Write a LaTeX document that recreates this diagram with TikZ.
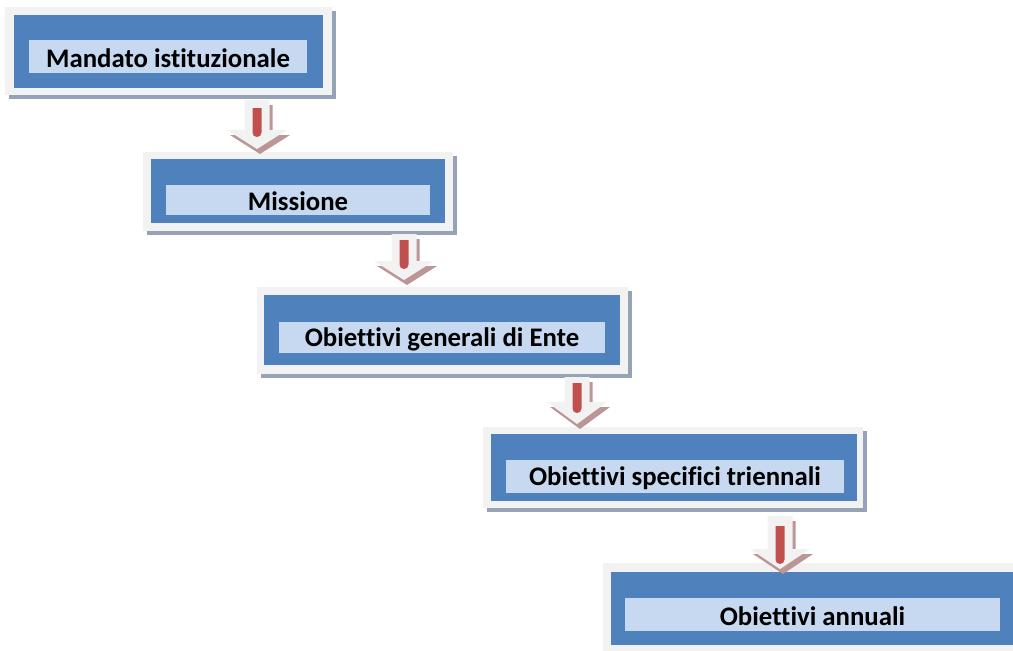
\documentclass[tikz,border=0pt]{standalone}
\usepackage{fontspec}
\setmainfont{Carlito}[Ligatures=NoCommon]
\usetikzlibrary{fit}
\definecolor{framegray}{RGB}{242,242,242}
\definecolor{boxblue}{RGB}{79,129,189}
\definecolor{stripblue}{RGB}{198,217,241}
\definecolor{boxshadow}{RGB}{150,163,182}
\definecolor{arrowfill}{RGB}{242,242,242}
\definecolor{arrowshadow}{RGB}{188,150,150}
\definecolor{arrowred}{RGB}{192,80,77}
\tikzset{
  x=1pt, y=-1pt,
  frame/.style={fill=framegray, draw=none, inner sep=0pt},
  bluebox/.style={fill=boxblue, draw=none, inner sep=0pt},
  strip/.style={fill=stripblue, draw=none, inner sep=0pt},
  shadowbox/.style={fill=boxshadow},
  txt/.style={font=\fontsize{26.8}{30}\selectfont\bfseries, text=black, inner sep=0pt},
}
% \stagebox{name}{outer x1,y1,x2,y2}{blue ...}{strip ...}{text}
\newcommand\stagebox[5]{%
  \node[frame, fit={#2}] (#1) {};
  \fill[shadowbox] ([shift={(4,4)}]#1.north west) rectangle ([shift={(4,4)}]#1.south east);
  \node[frame, fit={#2}] (#1f) {};
  \node[bluebox, fit={#3}] (#1b) {};
  \node[strip, fit={#4}] (#1s) {};
  \node[txt] (#1t) at ([yshift=-1.5pt]#1s.center) {#5};
}
% \blockarrow{cx}{top}{headtop}{tip}{redtop}{redbottom}
\newcommand\blockarrow[6]{%
  \begin{scope}[shift={(3,5)}]
    \fill[arrowshadow] (#1-12.5,#2) -- (#1+12.5,#2) -- (#1+12.5,#3) -- (#1+30,#3) -- (#1,#4) -- (#1-30,#3) -- (#1-12.5,#3) -- cycle;
  \end{scope}
  \fill[arrowfill] (#1-12.5,#2) -- (#1+12.5,#2) -- (#1+12.5,#3) -- (#1+30,#3) -- (#1,#4) -- (#1-30,#3) -- (#1-12.5,#3) -- cycle;
  \fill[arrowred] (#1-4.5,#5) -- (#1+4.5,#5) [rounded corners=4.4pt] -- (#1+4.5,#6) -- (#1-4.5,#6) [sharp corners] -- cycle;
}
\begin{document}
\begin{tikzpicture}
\clip (0,0) rectangle (1013,651);
\fill[white] (0,0) rectangle (1013,651);

\stagebox{n1}{(5,7) (332,95)}{(14,15) (323,88)}{(29,40) (307,73)}{Mandato istituzionale}
\stagebox{n2}{(143,152) (453,231)}{(151,159) (445,223)}{(166,185) (430,215)}{Missione}
\stagebox{n3}{(257,287) (628,374)}{(264,295) (620,365)}{(279,322) (605,353)}{Obiettivi generali di Ente}
\stagebox{n4}{(483,427) (863,508)}{(491,434) (857,501)}{(506,460) (844,493)}{Obiettivi specifici triennali}
\stagebox{n5}{(603,563) (1030,670)}{(611,572) (1030,645)}{(625,598) (1000,631)}{Obiettivi annuali}

\blockarrow{257}{100}{130}{149}{108}{137}
\blockarrow{404}{234}{261}{280}{240}{269}
\blockarrow{577}{377}{402}{424}{383}{413}
\blockarrow{780}{516}{549}{569}{526}{564}
\end{tikzpicture}
\end{document}
